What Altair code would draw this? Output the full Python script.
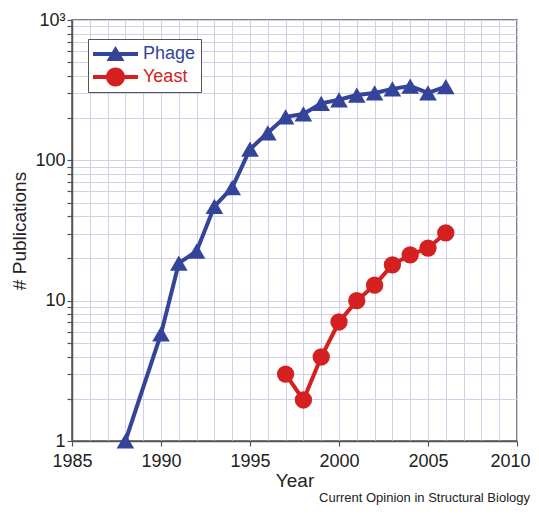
import altair as alt
import pandas as pd

# ---- data ----
phage_years = [1988, 1990, 1991, 1992, 1993, 1994, 1995, 1996, 1997, 1998, 1999,
               2000, 2001, 2002, 2003, 2004, 2005, 2006]
phage_values = [1, 5.8, 18.5, 22.5, 47, 64, 120, 157, 204, 214, 255,
                270, 292, 302, 323, 338, 302, 335]
yeast_years = [1997, 1998, 1999, 2000, 2001, 2002, 2003, 2004, 2005, 2006]
yeast_values = [3.0, 1.96, 3.97, 7.05, 10, 12.9, 18, 21.2, 23.7, 30.4]

series = ["Phage", "Yeast"]
colors = ["#33449a", "#d42020"]
x_grid_years = list(range(1985, 2011))
y_grid_values = [m * 10 ** e for e in range(3) for m in range(1, 10)] + [1000]

df = pd.DataFrame(
    {"Year": phage_years + yeast_years,
     "Count": phage_values + yeast_values,
     "Series": ["Phage"] * len(phage_years) + ["Yeast"] * len(yeast_years)}
)

GRID = "#cfd0ea"
FRAME = "#555555"
FONT = "Liberation Sans"

x_enc = alt.X(
    "Year:Q",
    scale=alt.Scale(domain=[1985, 2010], nice=False, zero=False),
    axis=alt.Axis(
        values=x_grid_years,
        labelExpr="datum.value % 5 == 0 ? datum.value : ''",
        tickOpacity={"condition": {"test": "datum.value % 5 == 0", "value": 1}, "value": 0},
        labelOffset={"condition": {"test": "datum.value == 2010", "value": -7}, "value": 0},
        tickSize=5, tickColor=FRAME, tickWidth=1.2,
        grid=True, gridColor=GRID, gridWidth=1,
        domainColor=FRAME, domainWidth=1.5,
        labelFontSize=18, labelColor="#222", labelPadding=6, labelFont=FONT,
        title="Year", titleFontSize=19, titleFontWeight="normal", titleColor="#222",
        titleFont=FONT, titlePadding=1, labelFlush=False,
    ),
)
y_enc = alt.Y(
    "Count:Q",
    scale=alt.Scale(type="log", domain=[1, 1000], nice=False),
    axis=alt.Axis(
        values=y_grid_values,
        labelExpr="datum.value == 1000 ? '10³' : (datum.value == 1 || datum.value == 10 || datum.value == 100 ? datum.value : '')",
        tickSize=5, tickColor=FRAME, tickWidth=1.2,
        grid=True, gridColor=GRID, gridWidth=1,
        domainColor=FRAME, domainWidth=1.5,
        labelFontSize=18, labelColor="#222", labelPadding=2, labelFont=FONT,
        title="# Publications", titleFontSize=19, titleFontWeight="normal",
        titleColor="#222", titleFont=FONT, titlePadding=5,
    ),
)

color_scale = alt.Scale(domain=series, range=colors)

lines = alt.Chart(df).mark_line(strokeWidth=4).encode(
    x=x_enc, y=y_enc,
    color=alt.Color("Series:N", scale=color_scale, legend=None),
    detail="Series:N",
)

points = alt.Chart(df).mark_point(filled=True, opacity=1).encode(
    x=x_enc, y=y_enc,
    color=alt.Color("Series:N", scale=color_scale, legend=None),
    shape=alt.Shape("Series:N", scale=alt.Scale(domain=series, range=["triangle-up", "circle"]), legend=None),
    size=alt.Size("Series:N", scale=alt.Scale(domain=series, range=[310, 300]), legend=None),
)

# legend glyphs: a line segment with the marker on it (unit = 10 px)
line_tri = "M-1,-0.2H3.5V0.2H-1Z M1.25,-0.8L2.15,0.7L0.35,0.7Z"
line_circ = "M-1,-0.2H3.5V0.2H-1Z M2.2,0A0.95,0.95 0 1,1 0.3,0A0.95,0.95 0 1,1 2.2,0Z"

legend = alt.Legend(
    title=None, orient="none", legendX=16, legendY=19,
    symbolSize=400, symbolOpacity=1, symbolStrokeWidth=0,
    labelFontSize=18, labelFont=FONT,
    labelColor={"expr": "datum.label == 'Phage' ? '#33449a' : '#d42020'"},
    strokeColor=FRAME, fillColor="white", padding=5, rowPadding=4,
    labelOffset=30,
)

legend_layer = alt.Chart(df).mark_point(filled=True, opacity=0).encode(
    x=x_enc, y=y_enc,
    color=alt.Color("Series:N", scale=color_scale, legend=legend),
    shape=alt.Shape("Series:N", scale=alt.Scale(domain=series, range=[line_tri, line_circ]), legend=legend),
)

chart = alt.layer(lines, points, legend_layer).resolve_scale(
    color="independent", shape="independent"
).properties(
    width=445, height=421,
    autosize=alt.AutoSizeParams(type="none"),
    padding={"left": 64, "top": 12, "right": 14, "bottom": 66},
    title=alt.TitleParams(
        "Current Opinion in Structural Biology", orient="bottom", anchor="end",
        fontSize=13, fontWeight="normal", color="#222", font=FONT, offset=2, dx=0,
    ),
).configure_view(stroke=FRAME, strokeWidth=1.5)

chart.save("out.html", embed_options={"renderer": "svg", "actions": False})
